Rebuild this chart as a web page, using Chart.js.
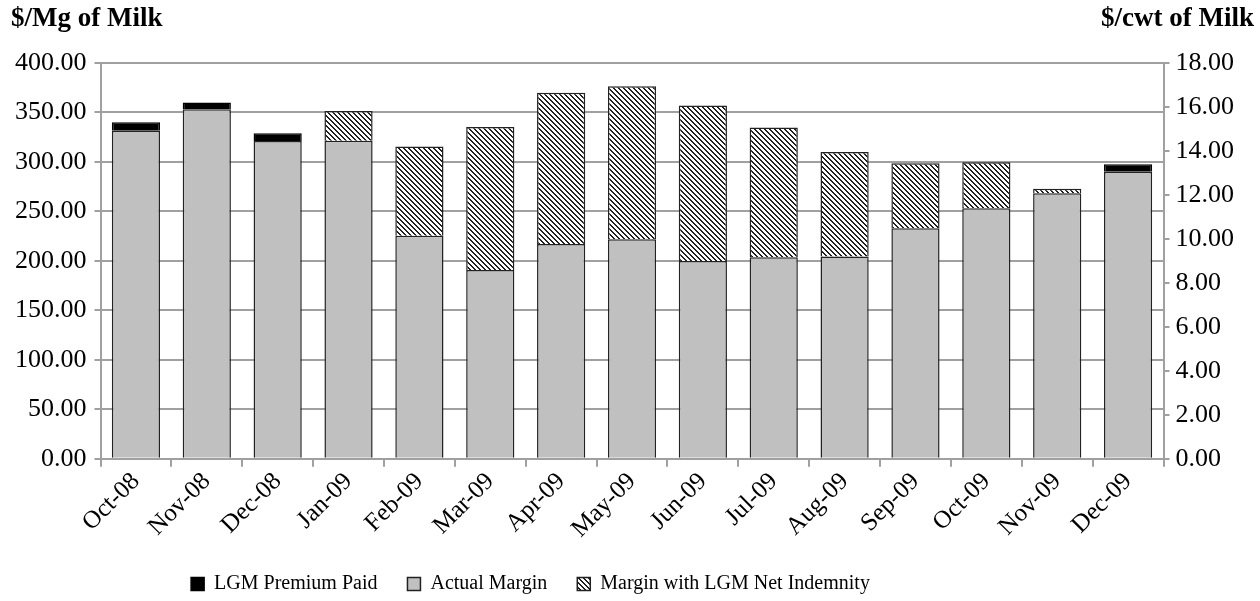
<!DOCTYPE html>
<html>
<head>
<meta charset="utf-8">
<script src="https://cdn.jsdelivr.net/npm/chart.js@4"></script>
<style>
  html, body { margin: 0; padding: 0; background: #fff; }
  #wrap { width: 1260px; height: 601px; }
</style>
</head>
<body>
<div id="wrap"><canvas id="marginChart" width="1260" height="601"></canvas></div>
<script>
var months = ['Oct-08', 'Nov-08', 'Dec-08', 'Jan-09', 'Feb-09', 'Mar-09', 'Apr-09', 'May-09',
              'Jun-09', 'Jul-09', 'Aug-09', 'Sep-09', 'Oct-09', 'Nov-09', 'Dec-09'];
// $/Mg of milk
var actualMargin = [331.6, 353.2, 321.2, 321.5, 225.3, 190.9, 217.2, 222.0, 200.0, 203.7, 204.4, 233.0, 253.2, 268.4, 290.2];
var lgmPremium = [8.5, 7.0, 7.8, null, null, null, null, null, null, null, null, null, null, null, 7.5];
var netIndemnity = [null, null, null, 30.0, 90.2, 144.5, 152.8, 154.5, 157.0, 131.0, 105.6, 65.7, 46.5, 4.6, null];
var leftTitle = '$/Mg of Milk';
var rightTitle = '$/cwt of Milk';

Chart.defaults.font.family = "'Liberation Serif', 'Times New Roman', serif";
Chart.defaults.font.size = 20;
Chart.defaults.color = '#000';

// diagonal hatch like the excel fill
function hatch() {
    var c = document.createElement('canvas');
    c.width = 5; c.height = 5;
    var g = c.getContext('2d');
    g.fillStyle = '#fff';
    g.fillRect(0, 0, 5, 5);
    g.fillStyle = '#222';
    for (var y = 0; y < 5; y++) {
        for (var x = 0; x < 5; x++) {
            var d = ((x - y) % 5 + 5) % 5;
            if (d === 0 || d === 1) g.fillRect(x, y, 1, 1);
        }
    }
    return g.createPattern(c, 'repeat');
}

var axisTitles = {
    id: 'axisTitles',
    afterDraw: function (chart) {
        var ctx = chart.ctx;
        ctx.save();
        ctx.font = "bold 27px 'Liberation Serif', 'Times New Roman', serif";
        ctx.fillStyle = '#000';
        ctx.textBaseline = 'alphabetic';
        ctx.textAlign = 'left';
        ctx.fillText(leftTitle, 11, 26);
        ctx.textAlign = 'right';
        ctx.fillText(rightTitle, 1254, 26);
        ctx.restore();
    }
};

// excel put the legend a bit left of centre
var legendShift = {
    id: 'legendShift',
    afterLayout: function (chart) {
        chart.legend.left -= 93;
        chart.legend.right -= 93;
    }
};

var legendRank = [1, 0, 2];
var gridGray = '#a0a0a0';

var chart = new Chart(document.getElementById('marginChart'), {
    type: 'bar',
    data: {
        labels: months,
        datasets: [{
            label: 'Actual Margin',
            data: actualMargin,
            backgroundColor: '#c0c0c0',
            borderColor: '#222',
            borderWidth: 1.5
        }, {
            label: 'LGM Premium Paid',
            data: lgmPremium,
            backgroundColor: '#000',
            borderColor: '#000',
            borderWidth: 1.5
        }, {
            label: 'Margin with LGM Net Indemnity',
            data: netIndemnity,
            backgroundColor: hatch(),
            borderColor: '#222',
            borderWidth: 1.5
        }]
    },
    options: {
        responsive: false,
        animation: false,
        categoryPercentage: 1,
        barPercentage: 0.68,
        layout: { padding: { top: 63, left: 7, right: 20, bottom: -3 } },
        plugins: {
            tooltip: { enabled: false },
            legend: {
                position: 'bottom',
                labels: {
                    boxWidth: 13,
                    boxHeight: 13,
                    padding: 30,
                    font: { size: 20 },
                    sort: function (a, b) { return legendRank[a.datasetIndex] - legendRank[b.datasetIndex]; }
                }
            }
        },
        scales: {
            x: {
                stacked: true,
                grid: { offset: true, drawOnChartArea: false, drawTicks: true, tickLength: 8, color: gridGray, lineWidth: 2 },
                border: { color: gridGray, width: 2 },
                ticks: { maxRotation: 45, minRotation: 45, padding: 0, font: { size: 25 } }
            },
            y: {
                stacked: true,
                min: 0,
                max: 400,
                position: 'left',
                grid: { color: gridGray, lineWidth: 2, tickLength: 6 },
                border: { color: gridGray, width: 2 },
                ticks: { stepSize: 50, padding: 8, font: { size: 26 }, callback: function (v) { return v.toFixed(2); } }
            },
            y2: {
                min: 0,
                max: 18,
                position: 'right',
                grid: { drawOnChartArea: false, color: gridGray, lineWidth: 2, tickLength: 6 },
                border: { color: gridGray, width: 2 },
                ticks: { stepSize: 2, padding: 6, font: { size: 26 }, callback: function (v) { return v.toFixed(2); } }
            }
        }
    },
    plugins: [axisTitles, legendShift]
});
</script>
</body>
</html>
